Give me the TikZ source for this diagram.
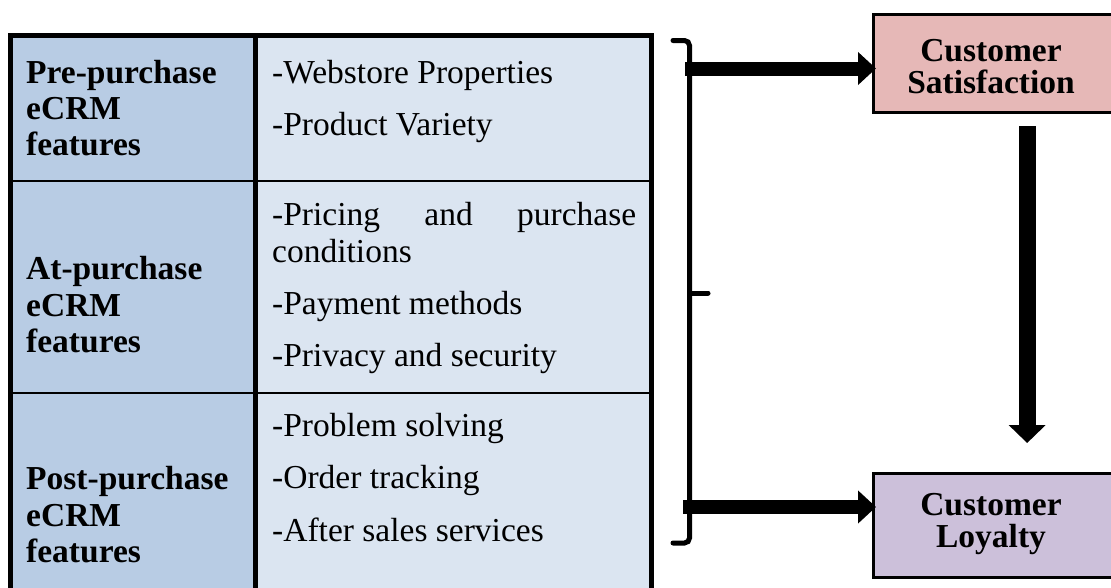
\documentclass[tikz,border=0pt]{standalone}
\usepackage{fontspec}
\setmainfont{Liberation Serif}
\usetikzlibrary{arrows.meta,calc}
\definecolor{phasefill}{HTML}{B8CCE4}
\definecolor{itemfill}{HTML}{DBE5F1}
\definecolor{satfill}{HTML}{E6B8B7}
\definecolor{loyfill}{HTML}{CCC0DA}
\tikzset{
  phasecell/.style={fill=phasefill, draw=none, inner sep=0pt, anchor=north west, minimum width=245pt},
  itemcell/.style={fill=itemfill, draw=none, inner sep=0pt, anchor=north west, minimum width=395.5pt},
  itemtext/.style={anchor=base west, inner sep=0pt, font=\fontsize{33.5}{37}\selectfont},
  phasetext/.style={anchor=base west, inner sep=0pt, font=\fontsize{33.5}{37}\selectfont\bfseries},
  outcome/.style={draw=black, line width=3.3pt, anchor=north west, minimum width=242pt, inner sep=0pt},
  outcometext/.style={anchor=base, inner sep=0pt, font=\fontsize{33.5}{37}\selectfont\bfseries},
  bigarrow/.style={line width=14pt, -{Triangle[length=18pt,width=32pt]}},
  downarrow/.style={line width=17pt, -{Triangle[length=18pt,width=36pt]}},
  bracket/.style={line width=5pt, line cap=round, rounded corners=5pt},
  gridthick/.style={line width=5pt},
  gridthin/.style={line width=2.5pt},
}
\begin{document}
\begin{tikzpicture}[x=1pt,y=-1pt]
\useasboundingbox (0,0) rectangle (1111,587);

% table cells
\node[phasecell, minimum height=146pt] (p1) at (10.5,35) {};
\node[phasecell, minimum height=212pt] (p2) at (10.5,181) {};
\node[phasecell, minimum height=207pt] (p3) at (10.5,393) {};
\node[itemcell, minimum height=146pt] (i1) at (255.5,35) {};
\node[itemcell, minimum height=212pt] (i2) at (255.5,181) {};
\node[itemcell, minimum height=207pt] (i3) at (255.5,393) {};

% table rules
\draw[gridthin] (p2.north west) -- (i2.north east);
\draw[gridthin] (p3.north west) -- (i3.north east);
\draw[gridthick] (i1.north west) -- (i3.south west);
\draw[gridthick] (p3.south west) -- (p1.north west) -- (i1.north east) -- (i3.south east);

% phase labels
\node[phasetext] (p1a) at (26,83) {Pre-purchase};
\node[phasetext] (p1b) at (26,119) {eCRM};
\node[phasetext] (p1c) at (26,155) {features};
\node[phasetext] (p2a) at (26,279) {At-purchase};
\node[phasetext] (p2b) at (26,316) {eCRM};
\node[phasetext] (p2c) at (26,352) {features};
\node[phasetext] (p3a) at (26,489) {Post-purchase};
\node[phasetext] (p3b) at (26,526) {eCRM};
\node[phasetext] (p3c) at (26,562) {features};

% feature items
\node[itemtext] (i1a) at (272,83) {-Webstore Properties};
\node[itemtext] (i1b) at (272,135) {-Product Variety};
\node[itemtext] (i2a) at (272,225) {\makebox[364pt][s]{-Pricing and purchase}};
\node[itemtext] (i2b) at (272,262) {conditions};
\node[itemtext] (i2c) at (272,314) {-Payment methods};
\node[itemtext] (i2d) at (272,366) {-Privacy and security};
\node[itemtext] (i3a) at (272,436) {-Problem solving};
\node[itemtext] (i3b) at (272,488) {-Order tracking};
\node[itemtext] (i3c) at (272,541) {-After sales services};

% outcome boxes
\node[outcome, fill=satfill, minimum height=98pt] (sat) at (872,13) {};
\node[outcome, fill=loyfill, minimum height=104pt] (loy) at (872,472) {};
\node[outcometext] (satA) at (991,61.5) {Customer};
\node[outcometext] (satB) at (991,93.5) {Satisfaction};
\node[outcometext] (loyA) at (991,515.5) {Customer};
\node[outcometext] (loyB) at (991,547.5) {Loyalty};

% bracket grouping the three phases
\coordinate (bt) at (673,40.5);
\coordinate (bb) at (673,543);
\coordinate (bm) at (689.5,293);
\coordinate (bmt) at (708,293);
\draw[bracket] (bt) -- (689.5,40.5) -- (689.5,543) -- (bb);
\draw[line width=5pt, line cap=round] (bm) -- (bmt);

% connectors
\coordinate (a1) at (685,68.5);
\coordinate (a2) at (683,507);
\draw[bigarrow] (a1) -- ($(a1 -| sat.west)+(4,0)$);
\draw[bigarrow] (a2) -- ($(a2 -| loy.west)+(4,0)$);
\draw[downarrow] ($(sat.south)+(32.5,12)$) -- ($(loy.north)+(32.5,-29)$);
\end{tikzpicture}
\end{document}
